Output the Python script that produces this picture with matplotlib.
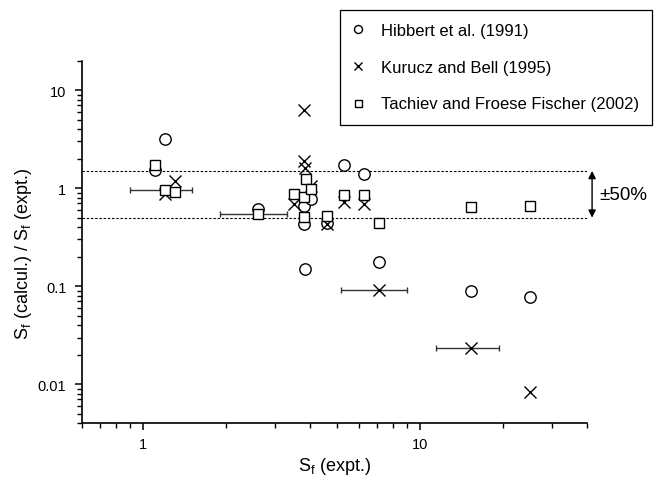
import matplotlib
matplotlib.use('Agg')
import matplotlib.pyplot as plt
from matplotlib.ticker import LogLocator, FuncFormatter, NullFormatter

plt.rcParams['font.family'] = ['Liberation Sans', 'DejaVu Sans']
plt.rcParams['mathtext.fontset'] = 'custom'
plt.rcParams['mathtext.rm'] = 'Liberation Sans'

# Hibbert et al. (1991) - circles
hib_x = [1.10, 1.20, 2.6, 3.8, 3.8, 3.85, 4.05, 4.6, 5.3, 6.3, 7.1, 15.3, 25.0]
hib_y = [1.55, 3.2, 0.62, 0.66, 0.43, 0.15, 0.78, 0.44, 1.73, 1.39, 0.175, 0.090, 0.078]

# Kurucz and Bell (1995) - crosses
kur_x = [1.2, 1.3, 3.5, 3.8, 3.8, 3.85, 4.05, 4.6, 5.3, 6.3, 7.1, 15.3, 25.0]
kur_y = [0.87, 1.19, 0.69, 6.2, 1.9, 1.62, 1.05, 0.43, 0.72, 0.69, 0.092, 0.0234, 0.0083]

# Tachiev and Froese Fischer (2002) - squares
tac_x = [1.1, 1.2, 1.3, 2.6, 3.5, 3.8, 3.8, 3.89, 4.05, 4.6, 5.3, 6.3, 7.1, 15.3, 25.0]
tac_y = [1.74, 0.965, 0.91, 0.545, 0.87, 0.81, 0.505, 1.24, 0.98, 0.52, 0.86, 0.86, 0.44, 0.64, 0.66]

# experimental uncertainties on S_f (horizontal error bars)
err_x = [1.2, 2.6, 7.1, 15.3]
err_y = [0.965, 0.545, 0.092, 0.0234]
err_dx = [0.3, 0.7, 1.9, 3.9]

fig = plt.figure(figsize=(6.56, 4.89), dpi=100)
ax = fig.add_axes([0.1245, 0.1323, 0.770, 0.7417])

ax.errorbar(err_x, err_y, xerr=err_dx, fmt='none', ecolor='#333333',
            elinewidth=1.0, capsize=2.5, capthick=1.0, zorder=1)

ax.plot(hib_x, hib_y, 'o', ms=8.2, mfc='white', mec='black', mew=1.0,
        label='Hibbert et al. (1991)', zorder=2)
ax.plot(kur_x, kur_y, 'x', ms=9, mec='black', mew=1.0,
        label='Kurucz and Bell (1995)', zorder=3)
ax.plot(tac_x, tac_y, 's', ms=7.2, mfc='white', mec='black', mew=1.0,
        label='Tachiev and Froese Fischer (2002)', zorder=4)

ax.axhline(1.5, color='black', lw=0.8, ls=(0, (2.2, 1.6)), zorder=0)
ax.axhline(0.5, color='black', lw=0.8, ls=(0, (2.2, 1.6)), zorder=0)

ax.set_xscale('log')
ax.set_yscale('log')
ax.set_xlim(0.6, 40)
ax.set_ylim(0.004, 20)

# +/-50% marker outside the axes
ax.annotate('', xy=(41.8, 1.5), xytext=(41.8, 0.5), xycoords='data',
            arrowprops=dict(arrowstyle='<|-|>', color='black', lw=1.0,
                            mutation_scale=11, shrinkA=0, shrinkB=0),
            annotation_clip=False)
ax.text(44.3, 0.87, '±50%', fontsize=13.5, va='center', ha='left', clip_on=False)

ax.spines['top'].set_visible(False)
ax.spines['right'].set_visible(False)
ax.spines['left'].set_linewidth(1.2)
ax.spines['bottom'].set_linewidth(1.2)

fmt = FuncFormatter(lambda v, p: '%g' % v)
ax.xaxis.set_major_locator(LogLocator(base=10, numticks=10))
ax.yaxis.set_major_locator(LogLocator(base=10, numticks=10))
ax.xaxis.set_minor_locator(LogLocator(base=10, subs=range(2, 10), numticks=20))
ax.yaxis.set_minor_locator(LogLocator(base=10, subs=range(2, 10), numticks=20))
ax.xaxis.set_major_formatter(fmt)
ax.yaxis.set_major_formatter(fmt)
ax.xaxis.set_minor_formatter(NullFormatter())
ax.yaxis.set_minor_formatter(NullFormatter())
ax.tick_params(which='major', direction='out', length=5, width=1.1, labelsize=10.5)
ax.tick_params(axis='y', which='major', pad=6)
ax.tick_params(axis='x', which='major', pad=5)
ax.tick_params(which='minor', direction='out', length=3.5, width=1.0)

ax.set_xlabel(r'S$_\mathregular{f}$ (expt.)', fontsize=13, labelpad=3)
ax.set_ylabel(r'S$_\mathregular{f}$ (calcul.) / S$_\mathregular{f}$ (expt.)', fontsize=13, labelpad=5)
ax.yaxis.set_label_coords(-0.095, 0.47)

leg = ax.legend(loc='upper right', bbox_to_anchor=(0.994, 0.978),
                bbox_transform=fig.transFigure, borderaxespad=0,
                fontsize=12, markerscale=0.7, handlelength=0.5,
                handletextpad=1.13, labelspacing=1.3, borderpad=0.8,
                fancybox=False, framealpha=1, edgecolor='black')
leg.get_frame().set_linewidth(0.9)

fig.savefig('out.png', dpi=100)
